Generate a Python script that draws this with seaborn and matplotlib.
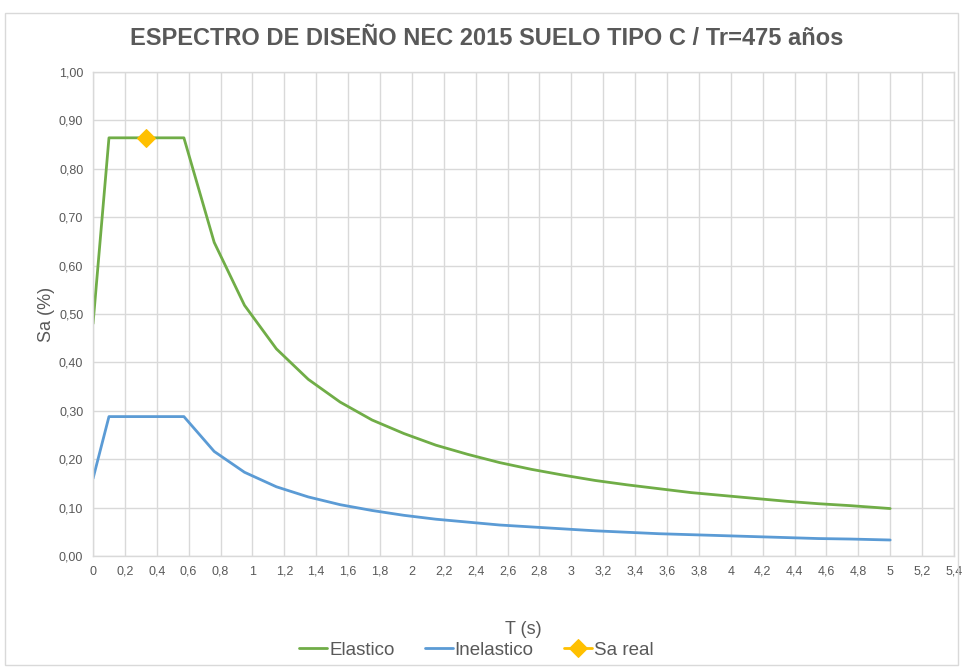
import numpy as np
import pandas as pd
import matplotlib
matplotlib.use('Agg')
import matplotlib.pyplot as plt
from matplotlib.ticker import FuncFormatter, MultipleLocator
from matplotlib.patches import Rectangle
import seaborn as sns

# datos
periodo = [0, 0.10, 0.57, 0.76, 0.95, 1.15, 1.35, 1.55, 1.75, 1.95, 2.15, 2.35, 2.55,
           2.75, 2.95, 3.15, 3.35, 3.55, 3.75, 3.95, 4.15, 4.35, 4.55, 4.75, 5.00]
elastico = [0.480, 0.864, 0.864, 0.648, 0.518, 0.428, 0.365, 0.318, 0.281, 0.253, 0.229, 0.210, 0.193,
            0.179, 0.167, 0.156, 0.147, 0.139, 0.131, 0.125, 0.119, 0.113, 0.108, 0.104, 0.098]
inelastico = [0.160, 0.288, 0.288, 0.216, 0.173, 0.143, 0.122, 0.106, 0.094, 0.084, 0.076, 0.070, 0.064,
              0.060, 0.056, 0.052, 0.049, 0.046, 0.044, 0.042, 0.040, 0.038, 0.036, 0.035, 0.033]
sa_real_t = [0.33]
sa_real = [0.864]

titulo = 'ESPECTRO DE DISEÑO NEC 2015 SUELO TIPO C / Tr=475 años'

sns.set_style('white')
plt.rcParams['font.family'] = ['Liberation Sans', 'DejaVu Sans']

gris = '#595959'
grid = '#d9d9d9'

df = pd.DataFrame({'T': periodo, 'Elastico': elastico, 'Inelastico': inelastico})

fig = plt.figure(figsize=(9.63, 6.68), dpi=100)
ax = fig.add_axes([0.0966, 0.1677, 0.894, 0.7245])

sns.lineplot(data=df, x='T', y='Elastico', ax=ax, color='#70AD47', linewidth=2, sort=False, label='Elastico')
sns.lineplot(data=df, x='T', y='Inelastico', ax=ax, color='#5B9BD5', linewidth=2, sort=False, label='Inelastico')
sns.lineplot(x=sa_real_t, y=sa_real, ax=ax, color='#FFC000', marker='D', markersize=9,
             markeredgecolor='#FFC000', linewidth=2, label='Sa real')

ax.set_xlim(0, 5.4)
ax.set_ylim(0, 1.0)
ax.xaxis.set_major_locator(MultipleLocator(0.2))
ax.yaxis.set_major_locator(MultipleLocator(0.1))
ax.xaxis.set_major_formatter(FuncFormatter(lambda v, p: f'{round(v, 1):g}'.replace('.', ',')))
ax.yaxis.set_major_formatter(FuncFormatter(lambda v, p: f'{v:.2f}'.replace('.', ',')))
ax.grid(True, color=grid, linewidth=1)
for s in ax.spines.values():
    s.set_color(grid)
    s.set_linewidth(1)
ax.tick_params(length=0, labelsize=9, colors=gris, pad=7)

ax.set_xlabel('T (s)', fontsize=13, color=gris, labelpad=31)
ax.set_ylabel('Sa (%)', fontsize=13, color=gris, labelpad=3)

fig.text(0.505, 0.943, titulo, ha='center', va='center', fontsize=17, fontweight='bold', color=gris)

leg = ax.legend(loc='upper center', bbox_to_anchor=(0.445, -0.142), ncol=3, frameon=False,
                handlelength=1.5, handletextpad=0.1, columnspacing=1.6,
                prop={'size': 13.5})
for t in leg.get_texts():
    t.set_color(gris)

fig.patches.append(Rectangle((0.005, 0.005), 0.99, 0.975, transform=fig.transFigure,
                             fill=False, edgecolor=grid, linewidth=1))

fig.savefig('out.png', dpi=100)
